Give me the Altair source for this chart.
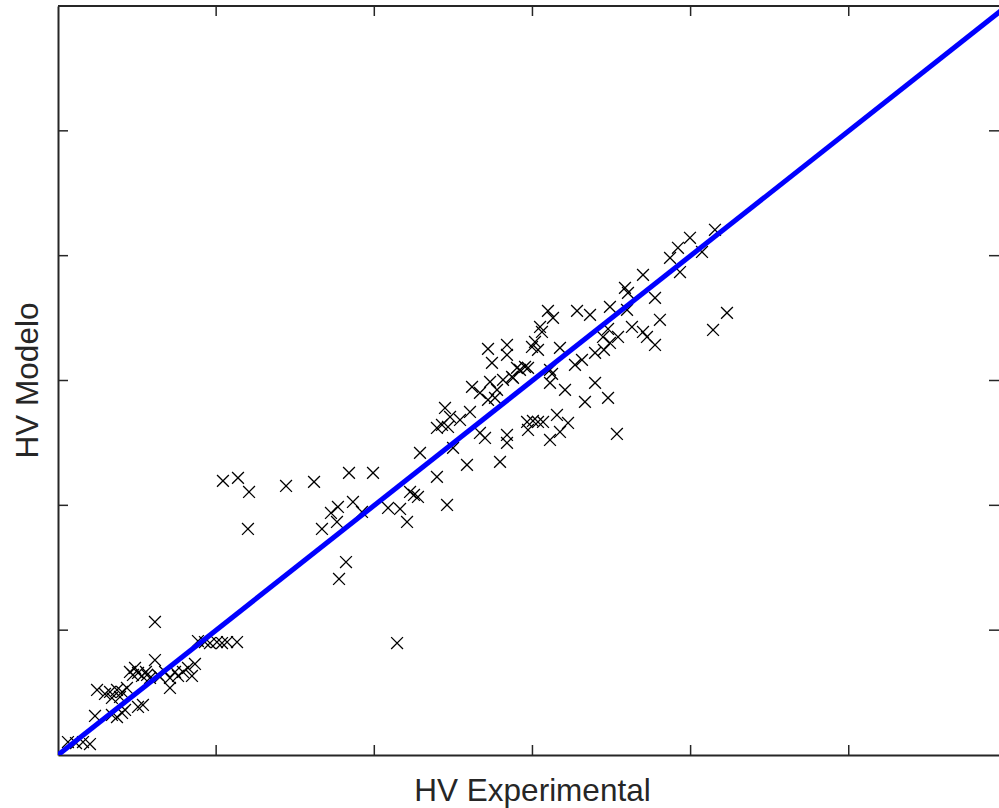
import altair as alt
import pandas as pd

# HV values
hv_exp = [
    6.3, 11.4, 15.8, 20.2, 23.4, 24.7, 29.7, 32.9, 37.3, 40.5, 43.6, 34.1, 39.2, 34.1, 37.3,
    40.5, 42.4, 50.6, 45.5, 48.7, 50.6, 47.4, 53.1, 55.6, 56.3, 58.2, 61.3, 61.3, 53.7, 63.2,
    64.5, 67.7, 70.8, 74.0, 75.9, 79.0, 82.2, 86.6, 84.7, 70.8, 88.5, 92.9, 96.1, 100.5, 103.7,
    106.9, 113.2,
    104.3, 113.8, 120.8, 120.1, 144.2, 161.9, 184.0, 199.2, 172.6, 177.0, 176.4, 166.9, 186.5,
    192.2, 182.1, 177.7, 208.7, 216.3, 220.7, 222.6, 225.1, 227.6, 214.4, 228.9, 239.6, 246.0,
    249.8, 258.6, 279.5, 239.6, 242.8, 246.6, 244.7, 247.9, 254.2, 260.5, 261.8, 266.8, 273.2,
    277.6, 271.9, 276.3, 266.8, 270.0, 283.9, 283.9, 271.9, 283.9, 274.4, 283.9, 290.2, 287.7,
    295.3, 281.4, 287.1, 292.1, 297.2, 296.6, 300.3, 303.5, 306.7, 315.5, 322.5, 297.2, 311.1,
    317.4, 353.4, 320.6, 339.6, 333.2, 347.8, 311.1, 312.4, 311.1, 326.9, 331.3, 304.8, 306.0,
    301.6, 299.7, 303.5, 317.4, 309.8, 313.0, 328.2, 336.4, 349.0, 358.5, 360.4, 369.9, 377.5,
    359.8, 380.6, 339.6, 344.6, 347.8, 349.0, 354.1, 362.9, 369.9, 372.4, 377.5, 345.2, 423.0,
    414.2, 415.4, 399.6, 392.0, 387.0, 407.2, 393.3,
]
hv_mod = [
    10.4, 9.6, 10.4, 8.8, 31.3, 52.1, 48.9, 50.5, 52.1, 50.5, 53.7, 45.7, 46.5, 32.1, 30.4,
    33.7, 36.1, 38.5, 66.5, 69.7, 65.7, 64.1, 63.3, 66.5, 64.1, 61.7, 106.6, 76.1, 40.1, 64.1,
    62.5, 66.5, 61.7, 66.5, 63.3, 66.5, 69.7, 72.9, 63.3, 53.7, 91.3, 90.5, 89.7, 90.5, 89.7,
    90.5, 90.5,
    219.6, 222.0, 210.7, 181.1, 215.5, 218.8, 226.0, 226.0, 193.9, 198.7, 186.7, 181.1, 202.7,
    194.7, 154.6, 141.0, 197.9, 197.1, 186.7, 210.7, 208.3, 206.7, 89.7, 242.0, 222.8, 200.3,
    246.0, 232.4, 234.8, 262.0, 264.4, 262.8, 278.0, 270.8, 268.4, 274.8, 294.9, 290.1, 298.9,
    292.5, 284.5, 286.1, 258.0, 254.0, 256.4, 250.0, 325.3, 328.5, 314.1, 320.5, 310.1, 302.1,
    310.9, 300.5, 302.9, 308.5, 310.1, 266.8, 267.6, 266.8, 266.8, 272.4, 266.0, 260.4, 252.4,
    258.8, 257.2, 292.5, 298.1, 282.9, 286.1, 308.5, 305.3, 298.1, 312.5, 316.5, 342.9, 338.9,
    330.9, 326.9, 324.5, 326.1, 355.8, 350.2, 355.8, 352.6, 359.0, 374.2, 370.2, 384.6, 366.2,
    356.6, 348.6, 322.1, 334.9, 341.3, 330.1, 334.9, 342.9, 338.9, 334.9, 328.5, 324.5, 354.2,
    340.5, 420.7, 414.3, 406.3, 398.2, 403.0, 386.9,
]
line_vals = [0, 600]
x_ticks = [100, 200, 300, 400, 500]
y_ticks = [100, 200, 300, 400, 500]

W, H = 941, 749
AX = "#262626"
FONT = "Liberation Sans"

xs = alt.Scale(domain=[0, 595], nice=False, zero=False)
ys = alt.Scale(domain=[0, 600], nice=False, zero=False)

pts_df = pd.DataFrame({"x": hv_exp, "y": hv_mod})
line_df = pd.DataFrame({"x": line_vals, "y": line_vals})
xt_df = pd.DataFrame({"t": x_ticks})
yt_df = pd.DataFrame({"t": y_ticks})

x_axis = alt.Axis(
    title="HV Experimental", labels=False, ticks=False, grid=False,
    domain=True, domainColor=AX, domainWidth=2,
    titleFont=FONT, titleFontSize=31.5, titleFontWeight="normal", titleColor=AX,
    titleX=474, titleY=45.5, titleAlign="center", titleBaseline="alphabetic",
)
y_axis = alt.Axis(
    title="HV Modelo", labels=False, ticks=False, grid=False,
    domain=True, domainColor=AX, domainWidth=2,
    titleFont=FONT, titleFontSize=31.5, titleFontWeight="normal", titleColor=AX,
    titleAngle=270, titleX=-21, titleY=374, titleAlign="center", titleBaseline="alphabetic",
)

points = alt.Chart(pts_df).mark_point(
    shape="M-1,-1L1,1M-1,1L1,-1", size=140, filled=False,
    color="black", strokeWidth=1.3, opacity=1,
).encode(
    x=alt.X("x:Q", scale=xs, axis=x_axis),
    y=alt.Y("y:Q", scale=ys, axis=y_axis),
)

line = alt.Chart(line_df).mark_line(color="#0000FF", strokeWidth=5, clip=True).encode(
    x=alt.X("x:Q", scale=xs),
    y=alt.Y("y:Q", scale=ys),
)

# frame top line
top_frame = alt.Chart(xt_df).mark_rule(color=AX, strokeWidth=2).encode(
    x=alt.value(0), x2=alt.value(W), y=alt.value(0)
)

tick_style = dict(color=AX, strokeWidth=1.5)
bottom_ticks = alt.Chart(xt_df).mark_rule(**tick_style).encode(
    x=alt.X("t:Q", scale=xs), y=alt.value(H), y2=alt.value(H - 10)
)
top_ticks = alt.Chart(xt_df).mark_rule(**tick_style).encode(
    x=alt.X("t:Q", scale=xs), y=alt.value(0), y2=alt.value(10)
)
left_ticks = alt.Chart(yt_df).mark_rule(**tick_style).encode(
    y=alt.Y("t:Q", scale=ys), x=alt.value(0), x2=alt.value(10)
)
right_ticks = alt.Chart(yt_df).mark_rule(**tick_style).encode(
    y=alt.Y("t:Q", scale=ys), x=alt.value(W - 10), x2=alt.value(W)
)

chart = alt.layer(
    points, line, top_frame, bottom_ticks, top_ticks, left_ticks, right_ticks
).properties(
    width=W, height=H,
    autosize=alt.AutoSizeParams(type="none"),
    padding={"left": 58, "top": 6, "right": 0, "bottom": 53},
    background="white",
).configure_view(stroke=None)

chart.save("out.html", embed_options={"renderer": "svg", "actions": False})
